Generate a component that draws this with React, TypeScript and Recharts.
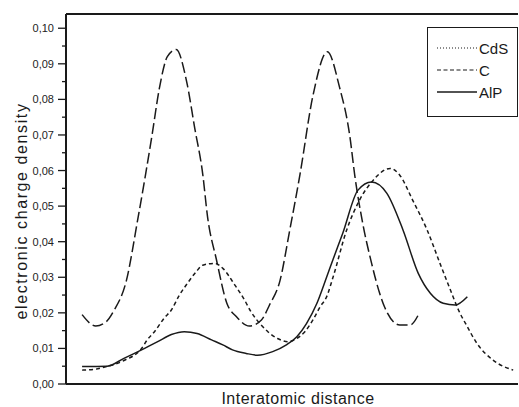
import React from 'react';
import { LineChart, Line, XAxis, YAxis, ReferenceLine, Legend, Label } from 'recharts';

// ── Data (x in tick units, y in electronic charge density) ──
const cdsX = [0.0, 0.17, 0.3, 0.4, 0.55, 0.69, 0.79, 0.87, 0.96, 1.06, 1.17, 1.3, 1.4, 1.5, 1.56, 1.67, 1.8, 1.92, 2.08, 2.23, 2.33, 2.46, 2.58, 2.71, 2.87, 3.05, 3.2, 3.33, 3.39, 3.49, 3.6, 3.7, 3.76, 3.95, 4.08, 4.18];
const cdsY = [0.0195, 0.0163, 0.0175, 0.0208, 0.029, 0.046, 0.059, 0.07, 0.083, 0.092, 0.094, 0.085, 0.072, 0.059, 0.047, 0.035, 0.0227, 0.0189, 0.0163, 0.018, 0.0222, 0.029, 0.043, 0.059, 0.081, 0.0934, 0.0835, 0.0695, 0.0587, 0.0451, 0.0339, 0.0255, 0.0217, 0.0166, 0.0166, 0.0194];

const cX = [0.0, 0.15, 0.27, 0.52, 0.74, 0.81, 0.9, 1.02, 1.11, 1.21, 1.31, 1.42, 1.5, 1.65, 1.75, 1.9, 2.02, 2.1, 2.21, 2.31, 2.43, 2.56, 2.67, 2.77, 2.87, 2.96, 3.04, 3.12, 3.29, 3.45, 3.62, 3.83, 3.95, 4.11, 4.29, 4.45, 4.58, 4.68, 4.79, 4.91, 5.11, 5.36];
const cY = [0.0039, 0.0041, 0.0047, 0.0066, 0.01, 0.0124, 0.0147, 0.0185, 0.0208, 0.025, 0.0283, 0.0316, 0.0334, 0.0339, 0.0325, 0.0278, 0.0236, 0.0203, 0.017, 0.0147, 0.0128, 0.0119, 0.0128, 0.0147, 0.018, 0.0217, 0.0245, 0.03, 0.0433, 0.0517, 0.0573, 0.0606, 0.0587, 0.0517, 0.0433, 0.0339, 0.0264, 0.0208, 0.0161, 0.0114, 0.0067, 0.0039];

const alpX = [0.0, 0.31, 0.52, 0.74, 0.94, 1.11, 1.27, 1.43, 1.61, 1.75, 1.87, 2.04, 2.18, 2.37, 2.54, 2.67, 2.79, 2.92, 3.04, 3.12, 3.24, 3.43, 3.6, 3.79, 3.99, 4.18, 4.33, 4.49, 4.64, 4.79];
const alpY = [0.0049, 0.005, 0.0072, 0.0096, 0.0119, 0.0139, 0.0147, 0.0142, 0.0124, 0.011, 0.0096, 0.0086, 0.0081, 0.0091, 0.011, 0.0133, 0.017, 0.0227, 0.03, 0.035, 0.0423, 0.0545, 0.0568, 0.0536, 0.0433, 0.0311, 0.0255, 0.0227, 0.0222, 0.0245];

const xTicks = [0, 1, 2, 3, 4, 5];
const yTicks = [0, 0.005, 0.01, 0.015, 0.02, 0.025, 0.03, 0.035, 0.04, 0.045, 0.05, 0.055, 0.06, 0.065, 0.07, 0.075, 0.08, 0.085, 0.09, 0.095, 0.1];

const toPoints = (xs: number[], ys: number[]) => xs.map((x, i) => ({ x, y: ys[i] }));

const FONT = '"Liberation Sans", Arial, sans-serif';
const INK = '#1a1a1a';

// plot dash = what the reference draws, legend dash = what its legend key shows
const series = [
  { name: 'CdS', data: toPoints(cdsX, cdsY), dash: '11 4', legendDash: '1 2' },
  { name: 'C', data: toPoints(cX, cY), dash: '4 3', legendDash: '4 2.5' },
  { name: 'AlP', data: toPoints(alpX, alpY), dash: undefined, legendDash: undefined },
];

// ── Y tick: long major mark + comma label, short minor mark ──────────────────
const YTick = ({ x, y, payload }: any) => {
  const v = payload.value as number;
  const major = Math.abs(Math.round(v * 100) - v * 100) < 1e-6;
  return (
    <g>
      <line x1={x - (major ? 8 : 4)} x2={x} y1={y} y2={y} stroke={INK} strokeWidth={1.3} />
      {major && (
        <text x={x - 12} y={y} textAnchor="end" dominantBaseline="central"
              fontSize={11} fontFamily={FONT} fill="#222">
          {v.toFixed(2).replace('.', ',')}
        </text>
      )}
    </g>
  );
};

// ── Boxed legend ──────────────────────────────────────────────────────────────
const BoxLegend = () => (
  <div style={{ width: 91, height: 90, border: `1.5px solid ${INK}`, boxSizing: 'border-box', background: '#fff' }}>
    <svg width={88} height={87}>
      {series.map((s, i) => {
        const yy = 20 + i * 22;
        return (
          <g key={s.name}>
            <line x1={9} x2={49} y1={yy} y2={yy} stroke={INK}
                  strokeWidth={s.legendDash ? 1.2 : 1.6} strokeDasharray={s.legendDash} />
            <text x={51} y={yy} dominantBaseline="central" fontSize={15}
                  fontFamily={FONT} fill="#1a1a1a">{s.name}</text>
          </g>
        );
      })}
    </svg>
  </div>
);

export default function App() {
  return (
    <div style={{ position: 'absolute', left: 0, top: 0, background: '#fff' }}>
      <LineChart width={519} height={407} margin={{ top: 14, right: 1, bottom: 0, left: 0 }}>
        <XAxis
          type="number"
          dataKey="x"
          domain={[-0.2, 5.42]}
          ticks={xTicks}
          tick={false}
          tickSize={7}
          height={23}
          allowDataOverflow
          axisLine={{ stroke: INK, strokeWidth: 2 }}
          tickLine={{ stroke: INK, strokeWidth: 1.3 }}
        >
          <Label
            content={({ viewBox }: any) => (
              <text x={viewBox.x + viewBox.width / 2 + 6} y={viewBox.y + 20} textAnchor="middle"
                    fontSize={16} letterSpacing={0.5} fontFamily={FONT} fill="#1a1a1a">
                Interatomic distance
              </text>
            )}
          />
        </XAxis>
        <YAxis
          type="number"
          dataKey="y"
          domain={[0, 0.104]}
          ticks={yTicks}
          interval={0}
          width={66}
          tickSize={0}
          tickMargin={0}
          tickLine={false}
          tick={<YTick />}
          allowDataOverflow
          axisLine={{ stroke: INK, strokeWidth: 2 }}
        >
          <Label
            content={({ viewBox }: any) => {
              const cx = 21;
              const cy = viewBox.y + viewBox.height / 2 + 12;
              return (
                <text x={cx} y={cy} transform={`rotate(-90 ${cx} ${cy})`} textAnchor="middle"
                      dominantBaseline="central" fontSize={16} letterSpacing={1.6}
                      fontFamily={FONT} fill="#1a1a1a">
                  electronic charge density
                </text>
              );
            }}
          />
        </YAxis>

        {/* top frame line */}
        <ReferenceLine y={0.104} stroke={INK} strokeWidth={2} ifOverflow="extendDomain" />

        {series.map((s) => (
          <Line
            key={s.name}
            data={s.data}
            dataKey="y"
            name={s.name}
            type="monotone"
            stroke={INK}
            strokeWidth={1.5}
            strokeDasharray={s.dash}
            dot={false}
            activeDot={false}
            isAnimationActive={false}
          />
        ))}

        <Legend
          layout="horizontal"
          verticalAlign="middle"
          align="center"
          content={<BoxLegend />}
          wrapperStyle={{ left: 427, top: 27, width: 91, height: 90 }}
        />
      </LineChart>
    </div>
  );
}
